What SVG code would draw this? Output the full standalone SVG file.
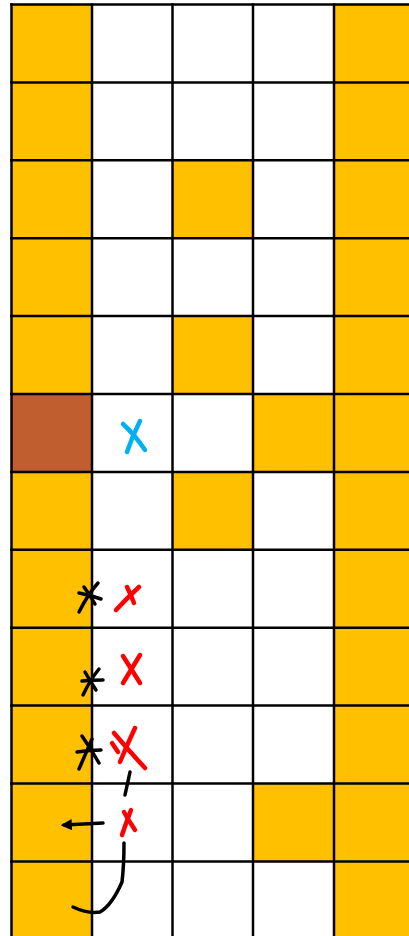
<svg xmlns="http://www.w3.org/2000/svg" width="409" height="936" viewBox="0 0 409 936">
<style>
.g{fill:#FFC000}
.b{fill:#C05E2F}
.grid line{stroke:#000;stroke-width:2.5}
.ink{fill:none;stroke:#000;stroke-width:3.5;stroke-linecap:round;stroke-linejoin:round}
.red{fill:none;stroke:#FF0000;stroke-width:4.5;stroke-linecap:round;stroke-linejoin:round}
.blue{fill:none;stroke:#00B0F0;stroke-width:4.5;stroke-linecap:round}
</style>
<defs>
<marker id="ah" viewBox="0 0 10 10" refX="7" refY="5" markerWidth="3.2" markerHeight="3.2" orient="auto">
<path d="M0,0 L10,5 L0,10 z" fill="#000"/>
</marker>
</defs>
<rect width="409" height="936" fill="#fff"/>
<g id="cells">
<rect class="g" x="11.5" y="4.5" width="80.5" height="936"/>
<rect class="b" x="11.5" y="394" width="80.5" height="78"/>
<rect class="g" x="334" y="4.5" width="75" height="936"/>
<rect class="g" x="172.5" y="160.3" width="80.5" height="78"/>
<rect class="g" x="172.5" y="316.1" width="80.5" height="78"/>
<rect class="g" x="172.5" y="471.9" width="80.5" height="78"/>
<rect class="g" x="253" y="394" width="81" height="78"/>
<rect class="g" x="253" y="783.5" width="81" height="78"/>
</g>
<g id="grid" class="grid">
<line x1="11.5" y1="3.3" x2="11.5" y2="936"/>
<line x1="92" y1="3.3" x2="92" y2="936"/>
<line x1="172.5" y1="3.3" x2="172.5" y2="936"/>
<line x1="253" y1="3.3" x2="253" y2="936"/>
<line x1="334" y1="3.3" x2="334" y2="936"/>
<line x1="10" y1="4.5" x2="409" y2="4.5"/>
<line x1="10" y1="82.4" x2="409" y2="82.4"/>
<line x1="10" y1="160.3" x2="409" y2="160.3"/>
<line x1="10" y1="238.2" x2="409" y2="238.2"/>
<line x1="10" y1="316.1" x2="409" y2="316.1"/>
<line x1="10" y1="394" x2="409" y2="394"/>
<line x1="10" y1="471.9" x2="409" y2="471.9"/>
<line x1="10" y1="549.8" x2="409" y2="549.8"/>
<line x1="10" y1="627.7" x2="409" y2="627.7"/>
<line x1="10" y1="705.6" x2="409" y2="705.6"/>
<line x1="10" y1="783.5" x2="409" y2="783.5"/>
<line x1="10" y1="861.4" x2="409" y2="861.4"/>
</g>
<g id="blue-x">
<path class="blue" d="M123,424 Q135,435 145,450"/>
<path class="blue" d="M140,421 Q132,437 127,452"/>
</g>
<g id="row7-marks">
<path class="ink" d="M79,612 Q88,594 98,583"/>
<path class="ink" d="M79,593 Q90,595 101,599"/>
<path class="ink" d="M84,587 Q90,595 95,604"/>
<path class="red" d="M116,610 Q128,597 139,587"/>
<path class="red" d="M127,587 Q131,595 134,603"/>
</g>
<g id="row8-marks">
<path class="ink" d="M83,695 Q90,680 99,669"/>
<path class="ink" d="M82,681 Q91,680 103,680"/>
<path class="ink" d="M85,672 Q90,681 96,690"/>
<path class="red" d="M123,656 L140,683" stroke-width="6.5" stroke-linecap="butt"/>
<path class="red" d="M140,655 L123,683" stroke-width="6.5" stroke-linecap="butt"/>
</g>
<g id="row9-marks">
<path class="ink" d="M77,752 Q90,750 101,750"/>
<path class="ink" d="M82,736 Q91,749 99,763"/>
<path class="ink" d="M92,739 Q85,755 79,769"/>
<path class="red" d="M135,728 Q127,745 120,762"/>
<path class="red" d="M114,733 Q130,752 145,768"/>
<path class="red" d="M112,743 L118,752" stroke-width="2"/>
</g>
<g id="row10-marks">
<path class="red" d="M124,812 Q129,821 135,830"/>
<path class="red" d="M131,810 Q126,823 122,835"/>
</g>
<g id="connectors">
<path class="ink" d="M130,772 L125,795"/>
<path class="ink" d="M103,823 L64,825" marker-end="url(#ah)"/>
<path class="ink" d="M124,843 Q124,865 122,882 Q112,905 100,912 Q88,914 73,907"/>
</g>
</svg>
